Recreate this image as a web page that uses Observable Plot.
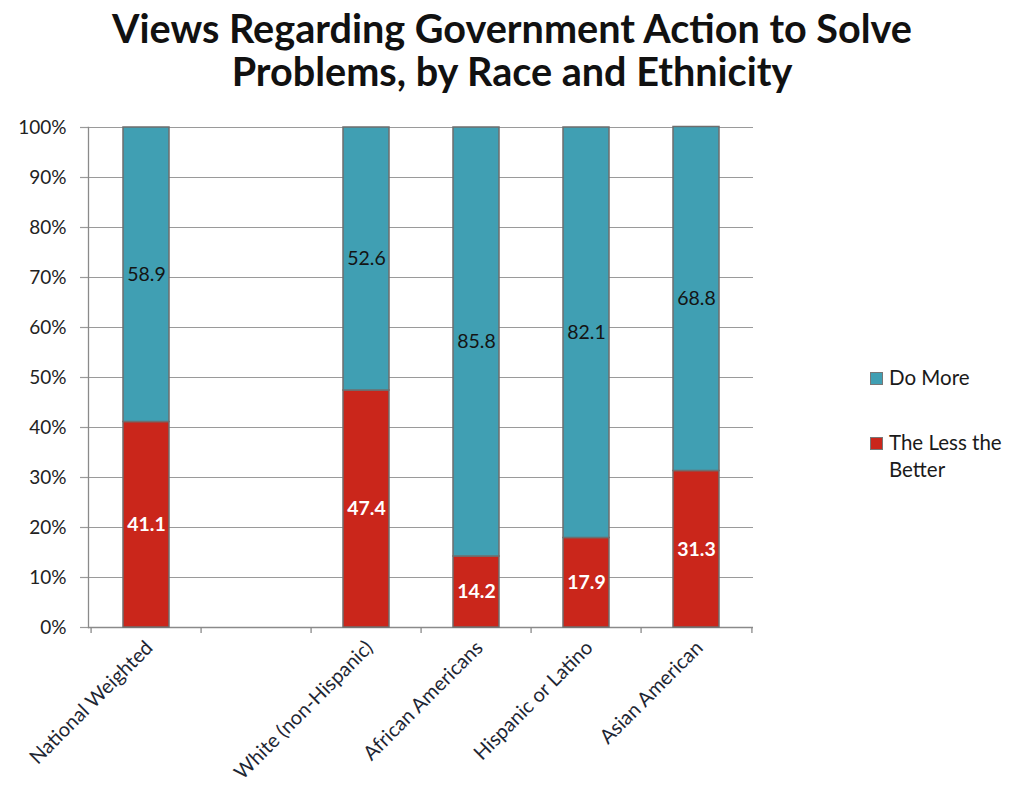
<!DOCTYPE html>
<html>
<head>
<meta charset="utf-8">
<script src="https://cdn.jsdelivr.net/npm/d3@7"></script>
<script src="https://cdn.jsdelivr.net/npm/@observablehq/plot@0.6"></script>
<style>
  html, body { margin: 0; padding: 0; background: #fff; }
  body { width: 1009px; height: 785px; position: relative; overflow: hidden; font-family: "Lato", "Open Sans", sans-serif; }
  #title { position: absolute; left: 0; top: 6px; width: 1024px; text-align: center; font-weight: bold; font-size: 39.6px; line-height: 43px; color: #111; }
  #chart { position: absolute; left: 0; top: 105px; }
  #legend { position: absolute; left: 870px; top: 364px; font-size: 20.5px; color: #1a1a1a; }
  .item { position: relative; padding-left: 19px; line-height: 27px; }
  .sw { position: absolute; left: 0; top: 8px; width: 11px; height: 11px; border: 1.3px solid #777; }
</style>
</head>
<body>
<div id="title">Views Regarding Government Action to Solve<br>Problems, by Race and Ethnicity</div>
<div id="chart"></div>
<div id="legend"></div>
<script>
const categories = ["National Weighted", "White (non-Hispanic)", "African Americans", "Hispanic or Latino", "Asian American"];
const doMore = [58.9, 52.6, 85.8, 82.1, 68.8];
const lessBetter = [41.1, 47.4, 14.2, 17.9, 31.3];
const seriesNames = ["Do More", "The Less the Better"];
const seriesColors = ["#409fb3", "#ca261b"];
const yTicks = [0, 10, 20, 30, 40, 50, 60, 70, 80, 90, 100];

// x domain with an empty slot after the first category
const spacer = " ";
const xDomain = [categories[0], spacer, ...categories.slice(1)];

const data = [];
categories.forEach((c, i) => {
  data.push({category: c, series: seriesNames[1], value: lessBetter[i]});
  data.push({category: c, series: seriesNames[0], value: doMore[i]});
});
const stackOrder = [seriesNames[1], seriesNames[0]];

const marginLeft = 88, marginRight = 256, width = 1009;
const step = (width - marginLeft - marginRight) / xDomain.length;

const chart = Plot.plot({
  width,
  height: 680,
  marginTop: 22,
  marginBottom: 158,
  marginLeft,
  marginRight,
  style: {fontFamily: "Lato, 'Open Sans', sans-serif", background: "white"},
  x: {domain: xDomain, paddingInner: 0.585, paddingOuter: 0.2925, label: null},
  y: {domain: [0, 100], label: null},
  color: {domain: seriesNames, range: seriesColors},
  marks: [
    Plot.ruleY(yTicks, {y: d => d, stroke: "#9a9a9a", strokeWidth: 1.2}),
    Plot.axisY(yTicks, {tickSize: 8, tickPadding: 14, stroke: "#9a9a9a", strokeWidth: 1.2, tickFormat: d => d + "%", fontSize: 19, fill: "#222"}),
    Plot.frame({anchor: "left", stroke: "#8a8a8a", strokeWidth: 1.3}),
    Plot.ruleY([0], {stroke: "#8a8a8a", strokeWidth: 1.3}),
    Plot.axisX(xDomain, {tickSize: 6, dx: -step / 2, text: null, stroke: "#8a8a8a", strokeWidth: 1.3}),
    Plot.axisX([xDomain[xDomain.length - 1]], {tickSize: 6, dx: step / 2, text: null, stroke: "#8a8a8a", strokeWidth: 1.3}),
    Plot.axisX(categories, {tickSize: 0, tickPadding: 17, tickRotate: -45, fontSize: 20, fill: "#1e2633", dx: 3}),
    Plot.barY(data, Plot.stackY({x: "category", y: "value", z: "series", order: stackOrder, fill: "series", stroke: "#6e6e6e", strokeWidth: 1.5})),
    Plot.text(data, Plot.stackY({
      x: "category", y: "value", z: "series", order: stackOrder,
      text: d => d.series === seriesNames[0] ? d.value.toFixed(1) : "",
      fill: "#141414", fontSize: 19.5
    })),
    Plot.text(data, Plot.stackY({
      x: "category", y: "value", z: "series", order: stackOrder,
      text: d => d.series === seriesNames[1] ? d.value.toFixed(1) : "",
      fill: "white", fontSize: 19.5, fontWeight: "bold"
    }))
  ]
});
document.getElementById("chart").appendChild(chart);

// Legend
const legend = document.getElementById("legend");
const legendLabels = [["Do More"], ["The Less the", "Better"]];
const legendTops = [0, 65];
seriesNames.forEach((s, i) => {
  const div = document.createElement("div");
  div.className = "item";
  div.style.position = "absolute";
  div.style.top = legendTops[i] + "px";
  div.style.width = "150px";
  div.innerHTML = `<span class="sw" style="background:${seriesColors[i]}"></span>` + legendLabels[i].join("<br>");
  legend.appendChild(div);
});
</script>
</body>
</html>
